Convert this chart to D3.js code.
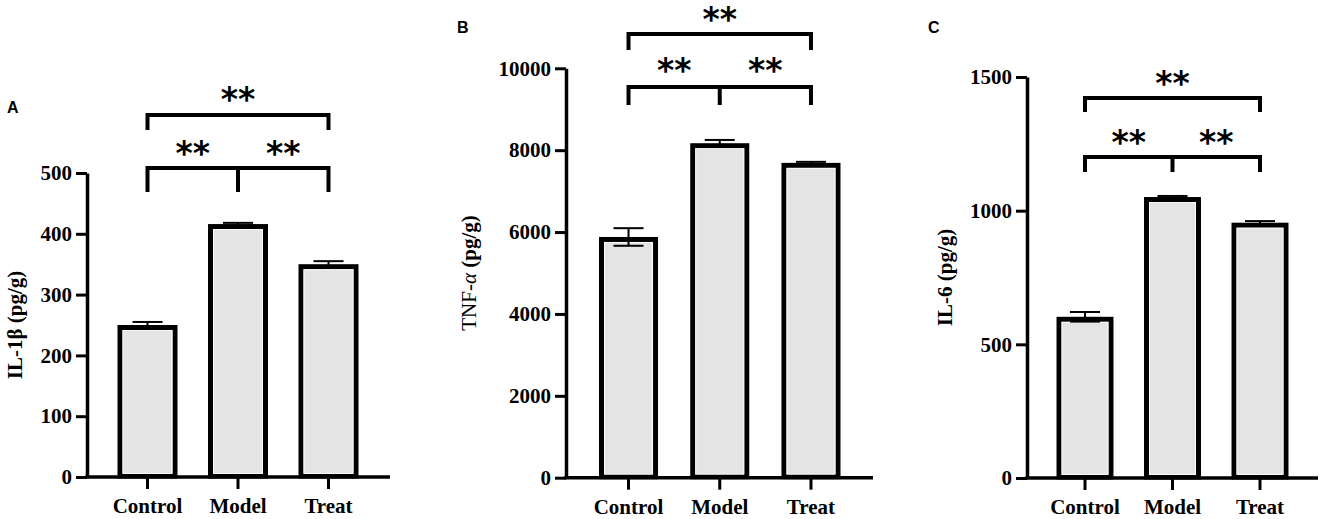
<!DOCTYPE html>
<html>
<head>
<meta charset="utf-8">
<script src="https://cdn.jsdelivr.net/npm/d3@7/dist/d3.min.js"></script>
<style>
  html, body { margin: 0; padding: 0; background: #fff; }
  svg { display: block; }
  .serif { font-family: "Liberation Serif", "Times New Roman", Times, serif; }
</style>
</head>
<body>
<svg id="chart" width="1325" height="519"></svg>
<script>
// ---------------- DATA ----------------
const categories = ["Control", "Model", "Treat"];

const il1bMean = [250, 416, 350];
const il1bErr  = [5, 2, 5];
const il1bTicks = [0, 100, 200, 300, 400, 500];

const tnfMean = [5880, 8170, 7690];
const tnfErr  = [215, 80, 25];
const tnfTicks = [0, 2000, 4000, 6000, 8000, 10000];

const il6Mean = [603, 1051, 955];
const il6Err  = [18, 4, 6];
const il6Ticks = [0, 500, 1000, 1500];

const panelLetters = ["A", "B", "C"];
const sigLabel = "**";
// comparisons: [from index, to index]
const upperComparison = [0, 2];
const lowerComparisons = [[0, 1], [1, 2]];

// ---------------- LAYOUT ----------------
const layouts = [
  { letter: [7, 113], axisX: 87, axisEnd: 390, top: 173, bottom: 477, band: [102.25, 373.75], pad: 0.337,
    titleX: 22, upper: { bar: 115, drop: 130, star: 94 }, lower: { bar: 168, drop: 192, star: 147.5 } },
  { letter: [457, 33], axisX: 566, axisEnd: 873, top: 68.3, bottom: 477.7, band: [582.9, 856.6], pad: 0.353,
    titleX: 476, upper: { bar: 34, drop: 50, star: 13.5 }, lower: { bar: 87, drop: 105, star: 65 } },
  { letter: [928, 33], axisX: 1027, axisEnd: 1318, top: 77, bottom: 478, band: [1041.25, 1303.75], pad: 0.349,
    titleX: 952, upper: { bar: 98, drop: 112, star: 77.5 }, lower: { bar: 157, drop: 172, star: 137 } }
];

const datasets = [
  { mean: il1bMean, err: il1bErr, ticks: il1bTicks },
  { mean: tnfMean, err: tnfErr, ticks: tnfTicks },
  { mean: il6Mean, err: il6Err, ticks: il6Ticks }
];

const serif = '"Liberation Serif", "Times New Roman", Times, serif';
const sans = '"Liberation Sans", Arial, Helvetica, sans-serif';
const starFont = '"DejaVu Sans", sans-serif';

const svg = d3.select("#chart");

function drawTitle(g, i, L) {
  const t = g.append("text")
    .attr("transform", `translate(${L.titleX},${(L.top + L.bottom) / 2}) rotate(-90)`)
    .attr("text-anchor", "middle")
    .style("font-family", serif)
    .style("font-size", "21px")
    .attr("fill", "#000");
  if (i === 0) {
    t.style("font-weight", "bold").text("IL-1β (pg/g)");
  } else if (i === 1) {
    t.style("font-weight", "normal");
    t.append("tspan").style("font-weight", "normal").text("TNF-");
    t.append("tspan").style("font-weight", "normal").style("font-style", "italic").text("α");
    t.append("tspan").style("font-weight", "bold").text(" (pg/g)");
  } else {
    t.style("font-weight", "bold").text("IL-6 (pg/g)");
  }
}

function styleLabel(sel) {
  sel.style("font-family", serif)
     .style("font-size", "21px")
     .style("font-weight", "bold")
     .attr("fill", "#000");
}

datasets.forEach((D, i) => {
  const L = layouts[i];
  const g = svg.append("g");

  const x = d3.scaleBand().domain(categories).range(L.band)
    .paddingInner(L.pad).paddingOuter(L.pad / 2);
  const y = d3.scaleLinear().domain([0, d3.max(D.ticks)]).range([L.bottom, L.top]);

  const sw = 5;
  const rows = categories.map((c, k) => ({ c, m: D.mean[k], e: D.err[k] }));

  // bars (outer top edge at the value)
  g.selectAll("rect.bar").data(rows).join("rect")
    .attr("class", "bar")
    .attr("x", d => x(d.c) + sw / 2)
    .attr("width", x.bandwidth() - sw)
    .attr("y", d => y(d.m) + sw / 2)
    .attr("height", d => y(0) - y(d.m) - sw / 2 - 1)
    .attr("fill", "#e4e4e4")
    .attr("stroke", "#000")
    .attr("stroke-width", sw);
  // thin light inner edge
  g.selectAll("rect.inner").data(rows).join("rect")
    .attr("class", "inner")
    .attr("x", d => x(d.c) + sw + 0.5)
    .attr("width", x.bandwidth() - 2 * sw - 1)
    .attr("y", d => y(d.m) + sw + 0.5)
    .attr("height", d => y(0) - y(d.m) - sw - 4)
    .attr("fill", "none")
    .attr("stroke", "#fafafa")
    .attr("stroke-width", 1);

  // error bars
  const cap = 15;
  const eb = g.selectAll("g.err").data(rows).join("g").attr("class", "err");
  const mid = d => x(d.c) + x.bandwidth() / 2;
  eb.append("line")
    .attr("x1", mid).attr("x2", mid)
    .attr("y1", d => y(d.m - d.e)).attr("y2", d => y(d.m + d.e))
    .attr("stroke", "#000").attr("stroke-width", 2);
  eb.append("line")
    .attr("x1", d => mid(d) - cap).attr("x2", d => mid(d) + cap)
    .attr("y1", d => y(d.m + d.e)).attr("y2", d => y(d.m + d.e))
    .attr("stroke", "#000").attr("stroke-width", 2);
  eb.append("line")
    .attr("x1", d => mid(d) - cap).attr("x2", d => mid(d) + cap)
    .attr("y1", d => y(d.m - d.e)).attr("y2", d => y(d.m - d.e))
    .attr("stroke", "#000").attr("stroke-width", 2);

  // y axis
  const yAxis = g.append("g")
    .attr("transform", `translate(${L.axisX},0)`)
    .call(d3.axisLeft(y).tickValues(D.ticks).tickFormat(d3.format("d"))
      .tickSize(11).tickSizeOuter(0).tickPadding(4));
  yAxis.attr("font-family", null).attr("font-size", null);
  yAxis.select(".domain").attr("stroke", "#000").attr("stroke-width", 3.5);
  yAxis.selectAll(".tick line").attr("stroke", "#000").attr("stroke-width", 3);
  styleLabel(yAxis.selectAll(".tick text"));

  // x axis
  const xAxis = g.append("g")
    .attr("transform", `translate(0,${L.bottom})`)
    .call(d3.axisBottom(x).tickSize(12).tickSizeOuter(0).tickPadding(9));
  xAxis.attr("font-family", null).attr("font-size", null);
  xAxis.select(".domain").remove();
  xAxis.selectAll(".tick line").attr("stroke", "#000").attr("stroke-width", 3);
  styleLabel(xAxis.selectAll(".tick text"));
  g.append("line")
    .attr("x1", L.axisX - 1.75).attr("x2", L.axisEnd)
    .attr("y1", L.bottom).attr("y2", L.bottom)
    .attr("stroke", "#000").attr("stroke-width", 3.5);

  // brackets
  const cx = k => x(categories[k]) + x.bandwidth() / 2;
  const bw = 4;
  const [u0, u1] = upperComparison;
  g.append("path")
    .attr("d", `M${cx(u0)},${L.upper.drop}V${L.upper.bar}H${cx(u1)}V${L.upper.drop}`)
    .attr("fill", "none").attr("stroke", "#000").attr("stroke-width", bw).attr("stroke-linejoin", "miter");
  g.append("text")
    .attr("x", (cx(u0) + cx(u1)) / 2).attr("y", L.upper.star + 17)
    .attr("text-anchor", "middle")
    .style("font-family", starFont).style("font-weight", "bold").style("font-size", "33px")
    .attr("fill", "#000").text(sigLabel);

  const lFirst = lowerComparisons[0][0];
  const lLast = lowerComparisons[lowerComparisons.length - 1][1];
  g.append("path")
    .attr("d", `M${cx(lFirst)},${L.lower.drop}V${L.lower.bar}H${cx(lLast)}V${L.lower.drop}`)
    .attr("fill", "none").attr("stroke", "#000").attr("stroke-width", bw).attr("stroke-linejoin", "miter");
  g.append("path")
    .attr("d", `M${cx(lowerComparisons[0][1])},${L.lower.bar}V${L.lower.drop}`)
    .attr("fill", "none").attr("stroke", "#000").attr("stroke-width", bw);
  lowerComparisons.forEach(([a, b]) => {
    g.append("text")
      .attr("x", (cx(a) + cx(b)) / 2).attr("y", L.lower.star + 17)
      .attr("text-anchor", "middle")
      .style("font-family", starFont).style("font-weight", "bold").style("font-size", "33px")
      .attr("fill", "#000").text(sigLabel);
  });

  drawTitle(g, i, L);

  g.append("text")
    .attr("x", L.letter[0]).attr("y", L.letter[1])
    .style("font-family", sans).style("font-weight", "bold").style("font-size", "16px")
    .attr("fill", "#000").text(panelLetters[i]);
});
</script>
</body>
</html>
